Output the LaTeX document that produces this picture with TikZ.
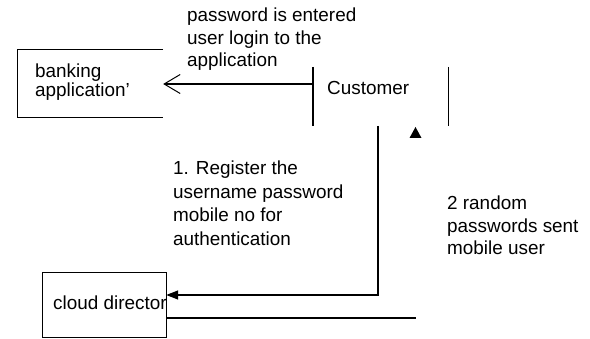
\documentclass[tikz,border=0pt]{standalone}
\usepackage{fontspec}
\setmainfont{Liberation Sans}
\usetikzlibrary{arrows.meta}
\tikzset{
  lbl/.style={inner sep=0pt, anchor=base west, align=left, font=\fontsize{18.9}{22.5}\selectfont},
  ln/.style={line width=1.3pt, draw=black},
}
\begin{document}
\begin{tikzpicture}[x=1pt,y=-1pt]
\useasboundingbox (0,0) rectangle (590,339);
% banking application (box open on the right)
\node[minimum width=145pt, minimum height=67pt, inner sep=0pt] (bank) at (90.5,83.5) {};
\draw[ln] (bank.north east) -- (bank.north west) -- (bank.south west) -- (bank.south east);
\node[lbl, font=\fontsize{18.9}{19}\selectfont] (banktxt) at (35,97) {banking\\application'};
% customer
\node[lbl] (cust) at (327,95) {Customer};
\coordinate (clt) at (313,67);
\coordinate (clb) at (313,126);
\coordinate (crt) at (448.5,67);
\coordinate (crb) at (448.5,126);
\draw[ln] (clt) -- (clb);
\draw[ln] (crt) -- (crb);
\coordinate (carr) at (313,84);
\draw[ln, -{Straight Barb[length=16pt,width=19pt,line width=1pt]}] (carr) -- (bank.east |- carr);
\node[lbl] (login) at (187,67) {password is entered\\user login to the\\application};
% cloud directory
\node[minimum width=123pt, minimum height=64pt, inner sep=0pt] (cloud) at (104.5,305) {};
\begin{scope}
\clip (cloud.north west) rectangle (cloud.south east);
\node[lbl] (cloudtxt) at (53,310) {cloud directory};
\end{scope}
\draw[ln] (cloud.north west) rectangle (cloud.south east);
% register flow
\coordinate (r1) at (378,126);
\coordinate (r2) at (378,295);
\draw[ln, -{Stealth[length=12pt,width=9pt,inset=0pt]}] (r1) -- (r2) -- (r2 -| cloud.east);
\node[lbl, font=\fontsize{18.9}{23.5}\selectfont] (reg) at (173,245.5) {1. Register the\\username password\\mobile no for\\authentication};
% random password flow
\coordinate (p2) at (416,318);
\draw[ln] (cloud.east |- p2) -- (p2);
\coordinate (tri) at (415.5,127);
\fill (tri) -- ++(6,11) -- ++(-12,0) -- cycle;
\node[lbl] (rand) at (447,255) {2 random\\passwords sent\\mobile user};
\end{tikzpicture}
\end{document}
